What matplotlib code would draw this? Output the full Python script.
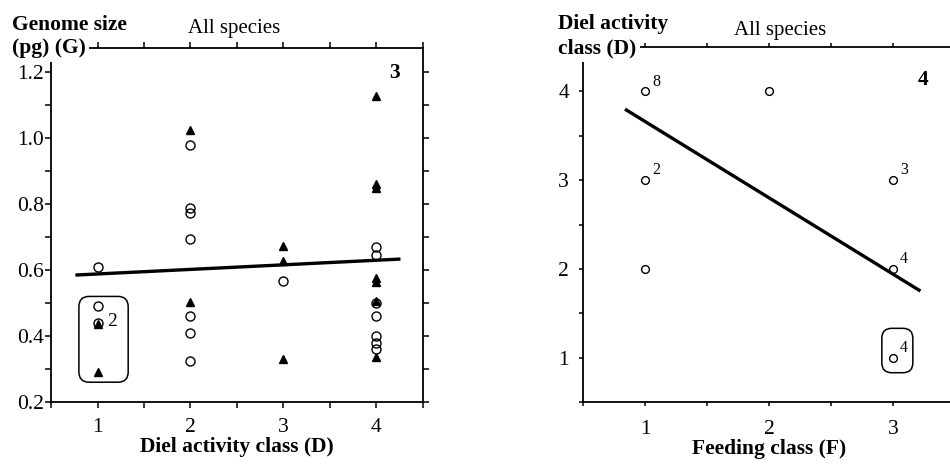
import matplotlib
matplotlib.use("Agg")
import matplotlib.pyplot as plt
from matplotlib.patches import FancyBboxPatch
from matplotlib.ticker import MultipleLocator

plt.rcParams['font.family'] = ['Liberation Serif', 'DejaVu Serif']

# ---- Panel 3 data: genome size vs diel activity class ----
p3_circle_x = [1, 1, 1, 2, 2, 2, 2, 2, 2, 2, 3, 4, 4, 4, 4, 4, 4, 4]
p3_circle_y = [0.61, 0.49, 0.44, 0.98, 0.788, 0.773, 0.695, 0.46, 0.41, 0.325,
               0.567, 0.67, 0.645, 0.50, 0.46, 0.40, 0.378, 0.36]
p3_tri_x = [1, 1, 2, 2, 3, 3, 3, 4, 4, 4, 4, 4, 4, 4]
p3_tri_y = [0.435, 0.29, 1.025, 0.503, 0.673, 0.627, 0.33,
            1.127, 0.86, 0.848, 0.575, 0.565, 0.507, 0.335]
p3_fit_x = [0.78, 4.24]
p3_fit_y = [0.585, 0.633]
p3_xticks = [1, 2, 3, 4]
p3_yticks = [0.2, 0.4, 0.6, 0.8, 1.0, 1.2]
p3_ytick_labels = ["0.2", "0.4", "0.6", "0.8", "1.0", "1.2"]
p3_box = (0.80, 0.26, 1.33, 0.52)   # x0, y0, x1, y1
p3_note = (1.16, 0.445, "2")

# ---- Panel 4 data: diel activity class vs feeding class ----
p4_x = [1, 2, 1, 3, 1, 3, 3]
p4_y = [4, 4, 3, 3, 2, 2, 1]
p4_labels = ["8", "", "2", "3", "", "4", "4"]
p4_fit_x = [0.85, 3.21]
p4_fit_y = [3.79, 1.76]
p4_xticks = [1, 2, 3]
p4_yticks = [1, 2, 3, 4]
p4_box = (2.91, 0.83, 3.16, 1.33)

W, H = 950, 466
fig = plt.figure(figsize=(W / 100, H / 100), dpi=100)

def frac(x0, y_top, x1, y_bot):
    return [x0 / W, 1 - y_bot / H, (x1 - x0) / W, (y_bot - y_top) / H]

ax1 = fig.add_axes(frac(51, 48, 423, 402))
ax2 = fig.add_axes(frac(583, 47, 955, 402))

label_font = dict(fontsize=15.5, fontweight='bold')

for ax in (ax1, ax2):
    for s in ax.spines.values():
        s.set_linewidth(1.3)
    ax.tick_params(which='both', direction='out', top=True, right=True,
                   labeltop=False, labelright=False, width=1.1,
                   labelsize=15.5)
    ax.tick_params(which='major', length=4)
    ax.tick_params(which='minor', length=4)

# ---- Panel 3 ----
ax1.set_xlim(0.5, 4.5)
ax1.set_ylim(0.2, 1.273)
ax1.set_xticks(p3_xticks)
ax1.xaxis.set_minor_locator(MultipleLocator(0.5))
ax1.set_yticks(p3_yticks)
ax1.set_yticklabels(p3_ytick_labels)
ax1.yaxis.set_minor_locator(MultipleLocator(0.1))
ax1.tick_params(axis='x', pad=7.5)
ax1.tick_params(axis='y', pad=1)

ax1.plot(p3_tri_x, p3_tri_y, linestyle='none', marker='^', markersize=6.3,
         color='black', zorder=3)
ax1.plot(p3_circle_x, p3_circle_y, linestyle='none', marker='o', markersize=6.5,
         markerfacecolor='none', markeredgecolor='black', markeredgewidth=1.0,
         zorder=4)
ax1.plot(p3_fit_x, p3_fit_y, color='black', linewidth=2.4, zorder=5)

bx0, by0, bx1, by1 = p3_box
ax1.add_patch(FancyBboxPatch((bx0, by0), bx1 - bx0, by1 - by0,
                             boxstyle="round,pad=0,rounding_size=0.11",
                             mutation_aspect=0.282, facecolor='none',
                             edgecolor='black', linewidth=1.1, zorder=2))
ax1.text(p3_note[0], p3_note[1], p3_note[2], fontsize=14, ha='center',
         va='center')

ax1.set_xlabel("Diel activity class (D)", labelpad=0, **label_font)
fig.text(12 / W, 1 - 22 / H, "Genome size", ha='left', va='center_baseline',
         **label_font)
fig.text(12 / W, 1 - 46 / H, "(pg) (G)", ha='left', va='center_baseline',
         bbox=dict(facecolor='white', edgecolor='none', pad=2.5), **label_font)
fig.text(234 / W, 1 - 28 / H, "All species", ha='center', va='center',
         fontsize=15)
fig.text(395 / W, 1 - 73 / H, "3", ha='center', va='center', **label_font)

# ---- Panel 4 ----
ax2.set_xlim(0.5, 3.5)
ax2.set_ylim(0.5, 4.5)
ax2.set_xticks(p4_xticks)
ax2.xaxis.set_minor_locator(MultipleLocator(0.5))
ax2.set_yticks(p4_yticks)
ax2.yaxis.set_minor_locator(MultipleLocator(0.5))
ax2.tick_params(which='both', length=3)
ax2.tick_params(axis='x', pad=10)
ax2.tick_params(axis='y', pad=7)

ax2.plot(p4_x, p4_y, linestyle='none', marker='o', markersize=5.6,
         markerfacecolor='none', markeredgecolor='black', markeredgewidth=1.0,
         zorder=4)
for x, y, lab in zip(p4_x, p4_y, p4_labels):
    if lab:
        ax2.annotate(lab, (x, y), xytext=(8, 7), textcoords='offset points',
                     fontsize=11.5, ha='center', va='center')
ax2.plot(p4_fit_x, p4_fit_y, color='black', linewidth=2.4, zorder=5)

bx0, by0, bx1, by1 = p4_box
ax2.add_patch(FancyBboxPatch((bx0, by0), bx1 - bx0, by1 - by0,
                             boxstyle="round,pad=0,rounding_size=0.08",
                             mutation_aspect=1.39, facecolor='none',
                             edgecolor='black', linewidth=1.1, zorder=2))

ax2.set_xlabel("Feeding class (F)", labelpad=0, **label_font)
fig.text(558 / W, 1 - 22 / H, "Diel activity", ha='left', va='center_baseline',
         **label_font)
fig.text(558 / W, 1 - 46 / H, "class (D)", ha='left', va='center_baseline',
         bbox=dict(facecolor='white', edgecolor='none', pad=2.5), **label_font)
fig.text(780 / W, 1 - 30 / H, "All species", ha='center', va='center',
         fontsize=15)
fig.text(923 / W, 1 - 80 / H, "4", ha='center', va='center', **label_font)

fig.savefig("out.png", dpi=100)
